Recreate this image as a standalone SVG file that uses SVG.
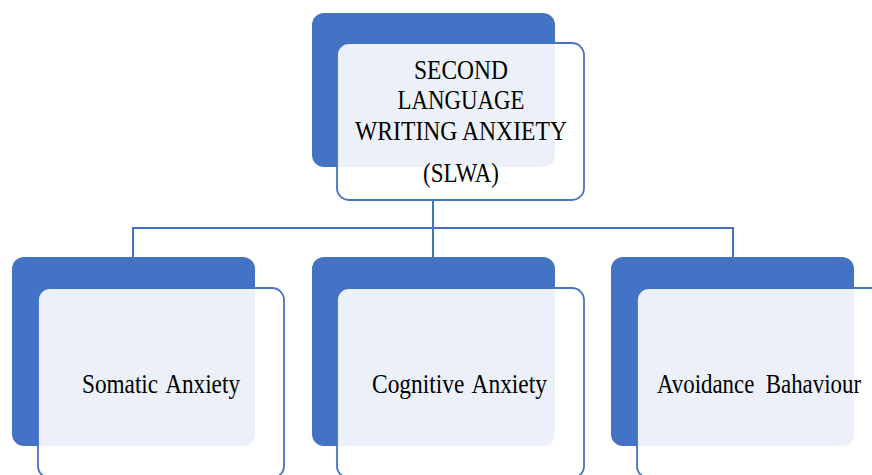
<svg xmlns="http://www.w3.org/2000/svg" width="872" height="475" viewBox="0 0 872 475">
<style>
.back{fill:#4472C4;}
.front{fill:#FFFFFF;fill-opacity:0.9;stroke:#4472C4;stroke-width:1.8;}
.conn{fill:none;stroke:#4472C4;stroke-width:2;}
.t{font-family:"Liberation Serif","Times New Roman",serif;fill:#000;text-anchor:middle;}
.top{font-size:27px;}
.bot{font-size:28px;word-spacing:3px;}
</style>
<rect width="872" height="475" fill="#FFFFFF"/>
<g id="connectors">
<path class="conn" d="M433,200 V228 M133,258 V228 H733 V258 M433,228 V258"/>
</g>
<g id="node-slwa">
<rect class="back" x="312" y="13" width="243" height="154" rx="12"/>
<rect class="front" x="337" y="43" width="247" height="157" rx="12"/>
<text class="t top" x="461" y="79" textLength="94" lengthAdjust="spacingAndGlyphs">SECOND</text>
<text class="t top" x="461" y="109" textLength="127" lengthAdjust="spacingAndGlyphs">LANGUAGE</text>
<text class="t top" x="461" y="140" textLength="212" lengthAdjust="spacingAndGlyphs">WRITING ANXIETY</text>
<text class="t top" x="461" y="182" textLength="76" lengthAdjust="spacingAndGlyphs">(SLWA)</text>
</g>
<g id="node-somatic">
<rect class="back" x="12" y="257" width="243" height="189" rx="12"/>
<rect class="front" x="38" y="288" width="246" height="190" rx="12"/>
<text class="t bot" x="161" y="393" textLength="158" lengthAdjust="spacingAndGlyphs">Somatic Anxiety</text>
</g>
<g id="node-cognitive">
<rect class="back" x="312" y="257" width="243" height="189" rx="12"/>
<rect class="front" x="337" y="288" width="247" height="190" rx="12"/>
<text class="t bot" x="459.5" y="393" textLength="175" lengthAdjust="spacingAndGlyphs">Cognitive Anxiety</text>
</g>
<g id="node-avoidance">
<rect class="back" x="611" y="257" width="243" height="189" rx="12"/>
<rect class="front" x="637" y="288" width="247" height="190" rx="12"/>
<text class="t bot" x="759" y="393" textLength="204" lengthAdjust="spacingAndGlyphs" style="word-spacing:7px">Avoidance Bahaviour</text>
</g>
</svg>
